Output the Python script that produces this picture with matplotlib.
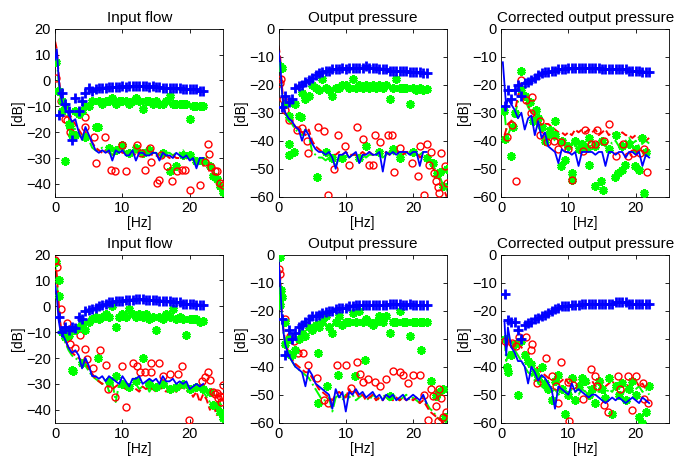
import numpy as np
import matplotlib
matplotlib.use("Agg")
import matplotlib.pyplot as plt

nan = np.nan

# frequency grids [Hz]
FREQ_LINE = [0, 0.25, 0.5, 0.75, 1, 1.5, 2, 2.5, 3, 3.5, 4, 4.5, 5, 5.5, 6, 6.5, 7, 7.5, 8, 8.5,
             9, 9.5, 10, 10.5, 11, 11.5, 12, 12.5, 13, 13.5, 14, 14.5, 15, 15.5, 16, 16.5, 17, 17.5,
             18, 18.5, 19, 19.5, 20, 20.5, 21, 21.5, 22, 22.5, 23, 23.5, 24, 24.5, 25]
FREQ_UP = [0.5, 1, 1.5, 2, 2.5, 3, 3.5, 4, 4.5, 5, 5.5, 6, 6.5, 7, 7.5, 8, 8.5, 9, 9.5, 10, 10.5,
           11, 11.5, 12, 12.5, 13, 13.5, 14, 14.5, 15, 15.5, 16, 16.5, 17, 17.5, 18, 18.5, 19, 19.5,
           20, 20.5, 21, 21.5, 22]

TITLES = ["Input flow", "Output pressure", "Corrected output pressure",
          "Input flow", "Output pressure", "Corrected output pressure"]
YLIMS = [(-45, 20), (-60, 0), (-60, 0), (-45, 20), (-60, 0), (-60, 0)]

# ---------- panel 1 : input flow (top) ----------
up_blue_1 = [-13.5, -5, -9, -12, -23, -7, -12, -8, -5, -3, -4, -3.5, -3, -3, -3, -2.5, -2.5, -2.5,
             -2.5, -2, -2.5, -2, -2, -2, -2, -2, -2, -2.5, -2, -2.5, -2.5, -3, -3, -3, -3, -3, -3,
             -3.5, -3.5, -3.5, -3.5, -3.5, -4, -4]
up_green_1 = [-4, -8, -10, -17, -21, -12, -13, -12, -10, -10, -8, -18, -8, -9, -8, -8, -7, -9, -8,
              -8, -8, -9, -8, -7, -8, -11, -8, -8, -9, -8, -9, -9, -8, -6, -9, -9, -9, -9, -9,
              -15, -10, -10, -10, -10]
low_blue_1 = [8, 12, 2, -5, -8, -11, -13, -16, -15, -20, -23, -18, -21, -24, -27, -28, -27, -28,
              -27, -31, -27, -28, -27, -29, -29, -27, -31, -28, -28, -29, -29, -28, -28, -31, -28,
              -29, -29, -30, -28, -29, -30, -29, -31, -30, -34, -30, -30]
low_red_1 = [15, 12, 3, -4, -8, -11, -12, -15, -17, -19, -21, -20, -22, -24, -26, -27, -28, -27,
             -28, -29, -28, -27, -28, -28, -29, -28, -29, -28, -29, -29, -28, -29, -29, -30, -29,
             -29, -30, -29, -30, -30, -29, -30, -31, -30, -32, -31, -33, -31, -36, -38, -40, -43, -45]
low_green_1 = [10, 8, 0, -6, -9, -12, -14, -17, -19, -21, -22, -21, -23, -26, -27, -27, -26, -27,
               -27, -29, -26, -27, -26, -28, -27, -27, -28, -27, -28, -27, -27, -28, -28, -29, -27,
               -28, -28, -29, -28, -28, -27, -29, -30, -29, -31, -30, -31, -29, -33, -35, -37, -40, -42]
circ_f_1 = [0.1, 0.9, 1.5, 1.7, 2.2, 4.5, 4.5, 5.8, 6.0, 7.4, 8.3, 8.9, 9.9, 10.6, 12.1, 12.7,
            13.4, 14.1, 14.3, 15.1, 15.4, 15.8, 16.6, 17.3, 18.1, 18.8, 19.3, 20.1, 21.6, 22.2,
            22.7, 22.9, 23.1, 23.7, 24.1, 24.5, 24.9]
circ_db_1 = [1, -8, -15, -15.5, -20, -14, -18, -22, -32, -22, -34.5, -35, -25, -35, -25, -28,
             -34.5, -26, -31.5, -39.5, -38.5, -29, -33, -39, -35, -34.5, -34.5, -42.5, -40.5,
             -31.5, -24.5, -28.5, -33.5, -35, -35, -39.5, -40.5]
star_f_1 = [0.1, 0.4, 1.0, 1.5, 2.2, 3.0, 4.5, 6.3, 8, 9, 10, 11, 12, 13, 14, 16, 17, 18, 19, 20,
            21, 22, 23, 23.5, 24, 24.5, 25]
star_db_1 = [7, -4, -12, -31, -18, -21, -22, -18, -26, -27, -25, -28, -26, -28, -27, -28, -35, -33,
             -29, -29, -31, -31, -33, -37, -38, -41, -43]

# ---------- panel 2 : output pressure (top) ----------
up_blue_2 = [-28, -24, -26, -25, -21, -20.5, -20, -19, -18.5, -17.5, -16.5, -16, -15.5, -15, -15,
             -14.5, -14.5, -14.5, -14, -14.5, -14, -14, -14, -14, -14, -13.5, -14, -14, -14, -14.5,
             -14.5, -14.5, -15, -15, -15, -15, -15, -15, -15.5, -15.5, -15.5, -15.5, -16, -16]
up_green_2 = [-14, -27, -31, -26, -27, -31, -23, -25, -24, -20, -21, -22, -18, -21, -22, -24, -21,
              -21, -20, -20, -21, -18, -21, -20, -21, -20, -21, -20, -21, -20, -21, -20, -25, -21,
              -18, -21, -21, -21, -27, -21, -22, -21, -22, -21.5]
low_blue_2 = [-8, -12, -22, -28, -30, -32, -33, -35, -36, -40, -36, -38, -41, -43, -44, -44, -45,
              -44, -46, -50, -45, -45, -44, -46, -45, -44, -48, -45, -45, -44, -45, -45, -44, -51,
              -44, -45, -44, -45, -44, -44, -44, -45, -44, -44, -49, -44, -44]
low_red_2 = [-6, -10, -20, -27, -30, -32, -33, -35, -36, -37, -38, -36, -40, -42, -43, -44, -44,
             -45, -45, -45, -44, -45, -44, -45, -45, -45, -45, -44, -45, -44, -45, -45, -44, -45,
             -44, -45, -44, -44, -44, -45, -44, -44, -45, -44, -46, -45, -46, -48, -50, -52, -54,
             -57, -60]
low_green_2 = [-10, -14, -22, -28, -31, -33, -34, -36, -37, -38, -36, -38, -44, -45, -46, -46,
               -47, -46, -47, -49, -46, -45, -45, -46, -45, -45, -46, -45, -46, -45, -45, -45, -45,
               -46, -45, -44, -45, -44, -45, -44, -45, -44, -44, -45, -45, -44, -46, -47, -49, -51,
               -53, -56, -58]
circ_f_2 = [0.15, 0.4, 0.65, 0.9, 1.6, 2.8, 3.5, 4.3, 4.4, 5.9, 6.7, 7.4, 8.3, 8.8, 9.9, 10.5,
            11.6, 12.5, 13.4, 14.1, 14.3, 15.1, 16.2, 16.8, 17.1, 18.1, 19.9, 20.8, 21.1, 21.6,
            22.0, 22.4, 22.7, 23.1, 23.4, 23.7, 23.9, 24.2, 24.7, 25.0]
circ_db_2 = [-19.5, -18, -25, -29, -32.5, -36, -35.5, -40, -44.5, -35, -36.5, -59.5, -50, -38,
             -42, -48.5, -35, -39.5, -48.5, -48.5, -38, -40.5, -38, -38, -51, -42.5, -48, -52.5,
             -42, -59.5, -41, -48.5, -44, -51.5, -54.5, -56.5, -58.5, -44.5, -49, -55]
star_f_2 = [0.15, 1.5, 1.6, 2.3, 3.3, 5.7, 7, 8, 9.5, 12, 13, 15, 17, 18, 20, 22, 23, 23.5, 24,
            24.5, 25]
star_db_2 = [-13.5, -41, -45, -44, -31.5, -53, -44, -46, -46, -46, -42, -44, -43, -46, -44, -46,
             -48, -52, -51, -56, -50]

# ---------- panel 3 : corrected output pressure (top) ----------
up_blue_3 = [-27.5, -22, -25, -22, -20, -24, -19.5, -19, -18.5, -17.5, -16.5, -16, -15.5, -15.5,
             -15, -15, -14.5, -14.5, -14.5, -14, -14, -14, -14, -14, -14, -14, -14, -14, -14,
             -14.5, -14.5, -14.5, -14.5, -14.5, -14.5, -14.5, -14.5, -15, -15, -15, -15, -15.5,
             -15.5, -15.5]
low_blue_3 = [nan, -12, -20, -28, -25, -27, -29, -32, -30, -36, -32, -31, -38, -33, -39, -37, -42,
              -43, -44, -48, -43, -44, -44, -45, -44, -49, -44, -44, -44, -44, -45, -44, -44, -49,
              -44, -44, -45, -44, -44, -46, -44, -44, -45, -44, -49, -45, -46]
low_red_3 = [nan, nan, -38, -36, -34, -33, -30, -24, -20, -26, -27, -30, -31, -33, -34, -34, -34,
             -35, -36, -37, -37, -38, -37, -38, -36, -37, -36, -37, -36, -37, -36, -38, -37, -36,
             -38, -37, -38, -38, -37, -38, -38, -39, -38, -39, -38, -40, -39]
low_green_3 = [nan, nan, -30, -36, -38, -35, -31, -26, -22, -25, -28, -30, -33, -35, -36, -38, -39,
               -38, -40, -41, -40, -42, -41, -40, -42, -41, -40, -42, -41, -40, -42, -40, -41, -42,
               -40, -41, -40, -42, -41, -40, -39, -41, -40, -42, -41, -40, -41]
circ_f_3 = [0.8, 1.6, 2.2, 2.9, 3.7, 4.6, 4.5, 5.8, 5.7, 6.8, 7.8, 8.4, 8.9, 9.9, 10.6, 12.1,
            12.5, 13.4, 13.9, 14.3, 15.3, 16.1, 17.0, 18.1, 18.9, 19.6, 20.6, 21.2, 21.6]
circ_db_3 = [-38.5, -34.5, -54.5, -18.5, -25.5, -24.5, -30, -33, -38, -40.5, -40, -43, -40.5, -43,
             -54, -43.5, -36, -41, -41, -36, -40, -34, -45.5, -41, -45.5, -44.5, -44.5, -43, -51]
star_f_3 = [0.4, 0.6, 1.4, 1.8, 2, 2.9, 3, 3.6, 4.3, 4.8, 5.2, 5.5, 6, 6.5, 7, 7.3, 8, 8, 8.9, 9,
            9.5, 10, 10.5, 10.6, 11, 11.5, 12, 12.8, 13, 13.1, 14, 14, 14.8, 15, 15.2, 16, 16.9,
            17, 17.4, 17.9, 18, 18.4, 19, 19.9, 20, 20.5, 21, 21.3, 21.5]
star_db_3 = [-29.5, -39.5, -45.5, -35, -30, -15, -21.5, -24, -26, -33, -29, -32, -35, -40, -38,
             -36, -33, -38, -49, -40, -47, -42, -51.5, -54, -40, -43, -41, -42.5, -39, -48.5, -42,
             -56, -54.5, -40, -57.5, -43, -53, -38, -51.5, -50.5, -42, -48.5, -41, -49, -43, -50.5,
             -39, -58.5, -44]

# ---------- panel 4 : input flow (bottom) ----------
up_blue_4 = [-4, -10, -8, -9, -8, -8.5, -4, -5, -2, -1.5, -1, -0.5, 0, 0.5, 1, 1.5, 1.5, 2, 2, 2,
             2.5, 2.5, 2.5, 3, 3, 3, 2.5, 2.5, 2.5, 2.5, 2, 2, 2, 2, 1.5, 1.5, 1.5, 1, 1, 1, 1,
             0.5, 0.5, 0.5]
up_green_4 = [4, -10, -12, -11, -24.5, -9, -8, -7, -9, -6, -5, -4, -5, -4, -3, -4, 0, -8, -4, -3,
              -4, -1, -3, -4, -3, -4, -3, -5, -4, -9, -4, -5, -3, -4, -1, -5, -4, -5, -11, -5, -5,
              -5, -6, -5.5]
low_blue_4 = [8, 4, -5, -9, -10, -13, -16, -18, -17, -19, -24, -20, -23, -27, -27, -28, -27, -29,
              -27, -28, -29, -30, -27, -29, -31, -28, -28, -27, -30, -29, -28, -29, -28, -30, -27,
              -29, -29, -28, -30, -29, -30, -29, -32, -31, -30, -31, -30]
low_red_4 = [18, 12, 2, -6, -10, -13, -16, -18, -19, -20, -21, -22, -24, -26, -28, -29, -30, -29,
             -31, -32, -31, -30, -31, -32, -30, -31, -32, -33, -31, -32, -31, -32, -33, -31, -32,
             -33, -31, -32, -33, -32, -31, -33, -32, -35, -33, -37, -34, -36, -40, -38, -42, -40, -44]
low_green_4 = [16, 10, 0, -7, -11, -14, -17, -19, -20, -21, -22, -23, -25, -27, -28, -29, -30, -28,
               -33, -29, -37, -30, -31, -30, -32, -31, -30, -32, -31, -30, -33, -31, -30, -32, -31,
               -30, -32, -31, -33, -31, -32, -31, -33, -32, -33, -31, -33, -35, -37, -39, -40, -42, -43]
circ_f_4 = [0, 0.3, 0.9, 1.7, 1.9, 2.2, 2.9, 3.7, 4.4, 4.8, 5.7, 6.6, 7.5, 7.9, 8.9, 9.9, 10.6,
            11.6, 12.1, 12.6, 13.3, 14.2, 14.3, 15.5, 16.0, 17.0, 18.3, 18.9, 19.9, 21.8, 22.2,
            22.7, 23.0, 23.5, 23.7, 24.0, 24.2, 24.5, 24.7, 24.9, 25.0]
circ_db_4 = [18, 15, -1, -6.5, -12, -14.5, -16, -11, -16.5, -20.5, -24, -17, -22.5, -32, -35, -23,
             -39, -22, -23, -25.5, -25.5, -25.5, -22, -22, -27, -26, -26, -23, -44, -29, -27.5,
             -25.5, -28.5, -33, -34, -33.5, -35.5, -34.5, -37, -30.5, -35]
star_f_4 = [0.2, 0.5, 1.5, 2.7, 4, 6.4, 8, 9.1, 10, 11, 12, 13.1, 14, 15, 16, 17, 18, 19, 20, 21,
            22, 23, 23.5, 24, 24.5, 25]
star_db_4 = [17, 10, -9, -25, -22, -20, -29, -27, -30, -31, -29, -20, -30, -31, -30, -32, -31, -30,
             -32, -31, -32, -33, -38, -38, -41, -43]

# ---------- panel 5 : output pressure (bottom) ----------
up_blue_5 = [-23, -36, -27, -30, -28, -26, -25, -24, -23, -22, -22, -21.5, -21, -20.5, -20, -20,
             -19.5, -19, -19, -19, -18.5, -18.5, -18, -18, -18, -18, -18, -18, -18, -18, -18, -18,
             -17.5, -17.5, -17.5, -17.5, -18, -18, -17.5, -18, -18, -18, -18, -18]
up_green_5 = [-15, -24, -30, -36, -34, -30, -28, -29, -26, -27, -25, -26, -24, -22, -26, -28, -24,
              -22, -25, -24, -24, -21, -24, -20, -24, -23, -24, -25, -24, -22, -24, -22, -28, -24,
              -24, -20, -24, -24, -29, -24, -24, -24, -24, -24]
low_blue_5 = [-2, -10, -22, -28, -32, -36, -38, -40, -41, -42, -47, -41, -43, -46, -47, -48, -49,
              -50, -55, -48, -51, -49, -56, -49, -50, -48, -50, -49, -51, -50, -49, -51, -50, -52,
              -50, -51, -50, -52, -51, -50, -52, -51, -50, -51, -52, -50, -53]
low_red_5 = [-3, -8, -20, -27, -31, -35, -37, -39, -40, -41, -42, -42, -44, -46, -48, -49, -50,
             -51, -52, -50, -49, -50, -51, -48, -50, -49, -51, -50, -52, -51, -50, -52, -51, -52,
             -50, -51, -52, -51, -52, -51, -52, -51, -52, -51, -53, -52, -54, -56, -57, -58, -59,
             -60, -60]
low_green_5 = [0, -10, -21, -28, -32, -36, -38, -40, -41, -42, -43, -44, -46, -48, -50, -52, -52,
               -51, -56, -51, -50, -52, -50, -51, -50, -52, -51, -50, -51, -52, -50, -51, -52, -50,
               -51, -52, -50, -51, -52, -51, -50, -52, -51, -52, -53, -51, -53, -55, -56, -58, -59,
               -59, -60]
circ_f_5 = [0, 0.25, 1.0, 1.7, 2.3, 2.9, 3.7, 4.4, 5.7, 6.7, 7.4, 8.7, 10.0, 10.8, 11.7, 12.1,
            12.5, 13.3, 14.3, 15.1, 16.0, 17.0, 18.0, 18.5, 19.3, 20.0, 21.0, 21.6, 22.2, 22.6,
            23.0, 23.4, 23.7, 23.9, 24.2, 24.5, 24.9]
circ_db_5 = [-5, -7, -23, -29, -31, -35, -35, -39.5, -44, -52, -53, -39.5, -39.5, -47.5, -38.5,
             -42.5, -45.5, -44.5, -45.5, -47, -44.5, -41.5, -42, -43, -46, -43, -43, -50, -59,
             -48, -50.5, -54, -59.5, -48, -51, -58, -56]
star_f_5 = [0.15, 0.25, 0.4, 1.0, 1.6, 5.8, 5.9, 7.2, 8.9, 11.3, 12.9, 16.6, 21.2, 22.7, 23.4,
            23.9, 24.5, 24.7]
star_db_5 = [-1, -18, -12.5, -32, -35.5, -35, -53, -47, -43, -43.5, -37.5, -50.5, -34, -45, -50.5,
             -49, -48, -58]

# ---------- panel 6 : corrected output pressure (bottom) ----------
up_blue_6 = [-14, -23.5, -24, -24, -27, -30, -25, -24.5, -24, -23, -22.5, -22, -21.5, -21, -20,
             -19.5, -19, -18.5, -18.5, -18.5, -18, -18, -18, -17.5, -17.5, -17.5, -17.5, -17.5,
             -17.5, -17.5, -17.5, -17.5, -17.5, -17, -17, -17, -17, -17.5, -17.5, -17.5, -17.5,
             -17.5, -17.5, -17.5]
low_blue_6 = [nan, nan, -24, -36, -26, -33, -35, -38, -38, -40, -46, -40, -42, -45, -43, -44, -46,
              -48, -55, -47, -48, -49, -50, -46, -49, -48, -49, -50, -51, -50, -50, -51, -52, -53,
              -52, -51, -52, -51, -52, -53, -52, -51, -52, -53, -51, -52, -53]
low_red_6 = [nan, nan, -32, -33, -32, -31, -32, -31, -33, -35, -36, -38, -39, -41, -42, -43, -44,
             -45, -44, -46, -45, -44, -46, -45, -44, -46, -45, -44, -46, -45, -47, -46, -45, -47,
             -46, -45, -47, -46, -45, -46, -47, -46, -45, -47, -46, -48, -47]
low_green_6 = [nan, nan, -30, -38, -36, -33, -34, -36, -38, -40, -42, -43, -45, -46, -47, -48, -47,
               -49, -48, -50, -49, -48, -50, -48, -49, -50, -48, -49, -47, -50, -48, -49, -47, -50,
               -48, -49, -47, -48, -50, -48, -47, -49, -48, -47, -49, -48, -50]
circ_f_6 = [0.6, 1.6, 2.2, 2.6, 3.7, 4.6, 4.5, 5.4, 6.7, 7.5, 8.2, 8.4, 8.9, 10.0, 10.1, 10.7,
            12.2, 13.4, 14.0, 14.3, 15.3, 15.9, 17.4, 17.7, 18.9, 19.4, 20.1, 21.1, 21.3, 21.8]
circ_db_6 = [-31, -31.5, -32.5, -29.5, -29.5, -32, -34, -46, -37, -43.5, -47, -53, -38.5, -45.5,
             -59.5, -46.5, -51.5, -41, -43.5, -47, -53.5, -56, -43.5, -48, -43.5, -55.5, -43.5,
             -46, -51.5, -53]
star_f_6 = [0.5, 0.8, 1, 1.5, 2, 2.5, 3, 3.5, 4, 4.5, 5, 5.5, 6, 6.5, 7, 7.5, 8, 8.5, 9, 9.5, 10,
            10.5, 11, 11.5, 12, 12.5, 13, 13.5, 14, 14.5, 15, 15.5, 16, 16.5, 17, 17.5, 18, 18.5,
            19, 19.5, 20, 20.5, 21, 21.5, 22]
star_db_6 = [-30, -40, -42, -36, -32, -50, -31, -36, -38, -39, -42, -44, -40, -46, -48, -52, -45,
             -43, -48, -57, -50, -44, -52, -47, -44, -45, -50, -48, -53, -45, -48, -51, -44, -57,
             -47, -50, -46, -52, -48, -45, -50, -58, -60, -56, -47]

# panel 3 and 6 have no separate upper green series; their green stars are in star_*
panels = [
    (up_blue_1, up_green_1, low_blue_1, low_red_1, low_green_1, circ_f_1, circ_db_1, star_f_1, star_db_1),
    (up_blue_2, up_green_2, low_blue_2, low_red_2, low_green_2, circ_f_2, circ_db_2, star_f_2, star_db_2),
    (up_blue_3, None, low_blue_3, low_red_3, low_green_3, circ_f_3, circ_db_3, star_f_3, star_db_3),
    (up_blue_4, up_green_4, low_blue_4, low_red_4, low_green_4, circ_f_4, circ_db_4, star_f_4, star_db_4),
    (up_blue_5, up_green_5, low_blue_5, low_red_5, low_green_5, circ_f_5, circ_db_5, star_f_5, star_db_5),
    (up_blue_6, None, low_blue_6, low_red_6, low_green_6, circ_f_6, circ_db_6, star_f_6, star_db_6),
]

plt.rcParams['font.family'] = ['Liberation Sans', 'DejaVu Sans']

BLUE, RED, GREEN = '#0000ff', '#ff0000', '#00ff00'
ASTERISK = (6, 2, 0)   # matlab-like '*' marker

fig = plt.figure(figsize=(6.98, 4.62), dpi=100)

lefts = [0.079, 0.399, 0.718]
bottoms = [0.574, 0.085]
W, H = 0.241, 0.364

for i, (ub, ug, lb, lr, lg, cf, cdb, sf, sdb) in enumerate(panels):
    ax = fig.add_axes([lefts[i % 3], bottoms[i // 3], W, H])

    # lower curves
    ax.plot(FREQ_LINE[:len(lg)], lg, '-.', color=GREEN, lw=1.4, zorder=2)
    ax.plot(FREQ_LINE[:len(lr)], lr, '--', color=RED, lw=1.4, zorder=2)
    ax.plot(sf, sdb, ls='none', marker=ASTERISK, color=GREEN, ms=6, mew=2.2, zorder=3)
    ax.plot(cf, cdb, 'o', color=RED, mfc='none', ms=5, mew=1.0, zorder=3)
    ax.plot(FREQ_LINE[:len(lb)], lb, '-', color=BLUE, lw=1.3, zorder=4)

    # upper series
    if ug is not None:
        ax.plot(FREQ_UP, ug, ls='none', marker=ASTERISK, color=GREEN, ms=6, mew=2.2, zorder=3)
    ax.plot(FREQ_UP, ub, '+', color=BLUE, ms=7, mew=2, zorder=4)

    ax.set_xlim(0, 25)
    ax.set_ylim(*YLIMS[i])
    ax.set_xticks([0, 10, 20])
    ax.set_yticks(np.arange(YLIMS[i][1], YLIMS[i][0] - 1, -10))
    ax.tick_params(direction='in', top=True, right=True, length=3, width=0.6, labelsize=10.5, pad=3)
    for s in ax.spines.values():
        s.set_linewidth(0.6)
    ax.set_title(TITLES[i], fontsize=11, pad=5)
    ax.set_xlabel('[Hz]', fontsize=10, labelpad=1)
    ax.set_ylabel('[dB]', fontsize=10, labelpad=1)

fig.savefig('out.png', dpi=100)
